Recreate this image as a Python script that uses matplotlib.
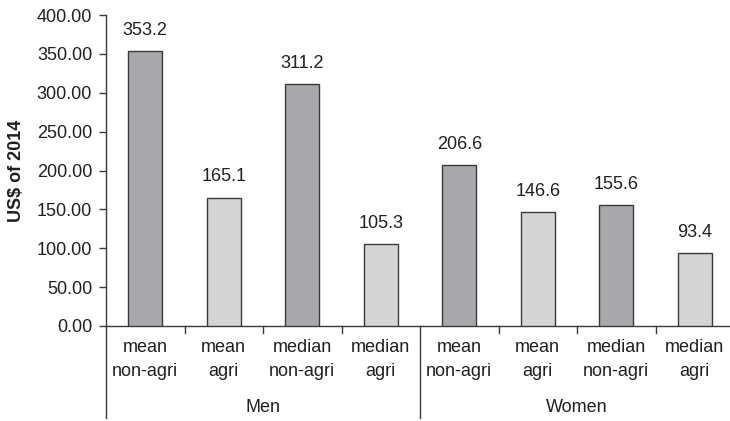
import matplotlib
matplotlib.use("Agg")
import matplotlib.pyplot as plt
from matplotlib.transforms import blended_transform_factory

# Monthly earnings by sex, statistic and sector
groups = ["Men", "Women"]
categories = ["mean\nnon-agri", "mean\nagri", "median\nnon-agri", "median\nagri"] * 2
values = [353.2, 165.1, 311.2, 105.3, 206.6, 146.6, 155.6, 93.4]
sectors = ["non-agri", "agri", "non-agri", "agri", "non-agri", "agri", "non-agri", "agri"]
y_ticks = [0, 50, 100, 150, 200, 250, 300, 350, 400]

sector_colors = {"non-agri": "#a7a8ab", "agri": "#d3d4d6"}
text_color = "#231f20"
line_color = "#3a3a3a"

plt.rcParams["font.family"] = ["Liberation Sans", "DejaVu Sans"]
FS = 13
plt.rcParams["font.size"] = FS

W, H = 730, 421
fig = plt.figure(figsize=(W / 100, H / 100), dpi=100)
left, right, top, bottom = 106, 734, 15, 326
ax = fig.add_axes([left / W, (H - bottom) / H, (right - left) / W, (bottom - top) / H])

x = list(range(len(values)))
ax.bar(x, values, width=0.43,
       color=[sector_colors[s] for s in sectors],
       edgecolor=line_color, linewidth=1.0, zorder=3)

for xi, v in zip(x, values):
    ax.annotate(f"{v:.1f}", (xi, v), xytext=(0, 15), textcoords="offset points",
                ha="center", va="center", color=text_color, fontsize=FS)

ax.set_xlim(-0.5, len(values) - 0.5)
ax.set_ylim(0, 400)
ax.set_yticks(y_ticks)
ax.set_yticklabels([f"{t:.2f}" for t in y_ticks], color=text_color)
ax.tick_params(axis="y", direction="out", length=5, width=1, color=line_color, pad=5)

ax.set_xticks([])
for s in ["top", "right"]:
    ax.spines[s].set_visible(False)
for s in ["left", "bottom"]:
    ax.spines[s].set_color(line_color)
    ax.spines[s].set_linewidth(1.0)

fig.text(17 / W, 1 - 171 / H, "US$ of 2014", rotation=90, ha="center", va="center",
         fontweight="bold", color=text_color, fontsize=FS)

trans = blended_transform_factory(ax.transData, ax.transAxes)
px = 1 / (bottom - top)  # one pixel in axes fraction (vertical)

# short ticks between categories
for b in [0.5, 1.5, 2.5, 4.5, 5.5, 6.5]:
    ax.plot([b, b], [0, -7 * px], transform=trans, color=line_color, lw=1, clip_on=False)

# long separators between groups
for b in [-0.5, 3.5, 7.5]:
    ax.plot([b, b], [0, -92 * px], transform=trans, color=line_color, lw=1, clip_on=False)

# category labels
for xi, lab in zip(x, categories):
    l1, l2 = lab.split("\n")
    ax.text(xi, -22 * px, l1, transform=trans, ha="center", va="center", color=text_color)
    ax.text(xi, -46 * px, l2, transform=trans, ha="center", va="center", color=text_color)

# group labels
for gi, g in enumerate(groups):
    ax.text(gi * 4 + 1.5, -82 * px, g, transform=trans, ha="center", va="center", color=text_color)

fig.savefig("out.png", dpi=100)
